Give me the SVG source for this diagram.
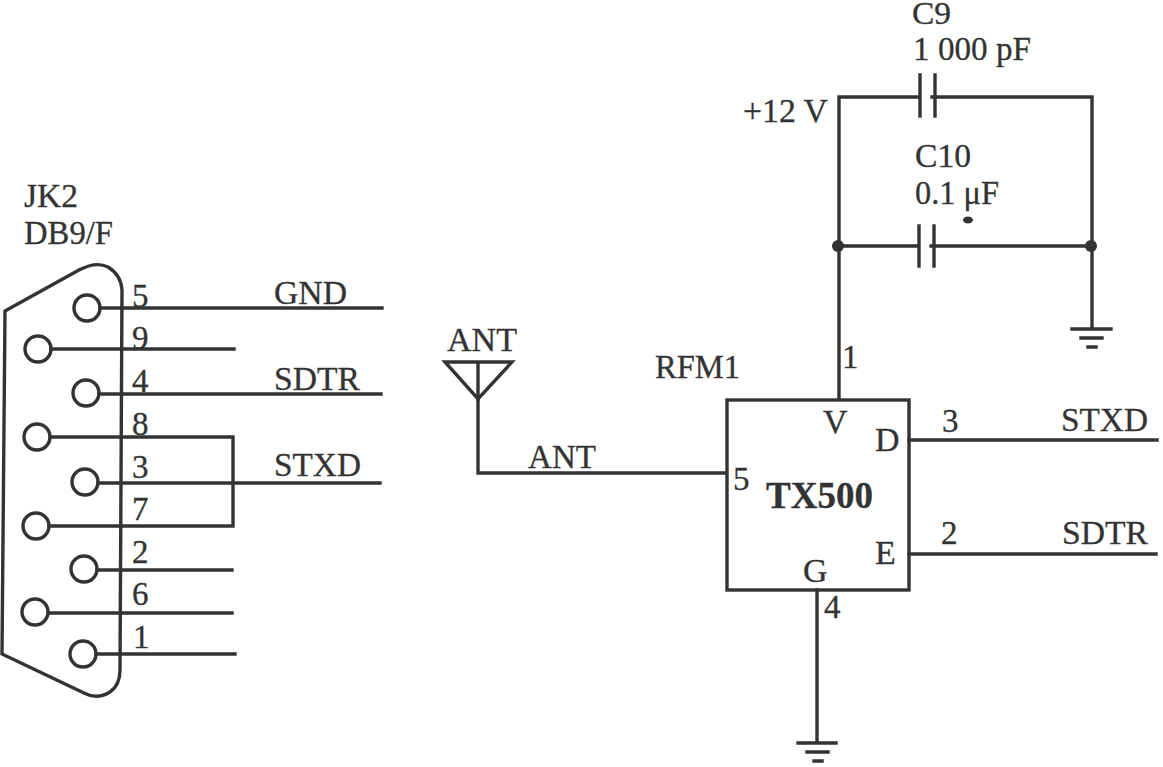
<svg xmlns="http://www.w3.org/2000/svg" width="1163" height="767" viewBox="0 0 1163 767">
<style>
.w{fill:none;stroke:#333;stroke-width:3.4;stroke-linecap:square;stroke-linejoin:miter}
.t{fill:#333;stroke:#333;stroke-width:.3;font-family:"Liberation Serif","Times New Roman",serif;font-size:34px}
.n{font-size:33px}
.b{font-weight:bold;font-size:38px}
.s{font-size:31px}
.d{fill:#333}
</style>
<rect width="1163" height="767" fill="#fff"/>
<g id="JK2">
<path class="w" d="M5,311 L79,270 Q96,261 108,267 Q121,275 122,290 L120,670 Q120,685 110,692 Q97,700 84,693 L2,654 Z"/>
<g class="w">
<circle cx="87" cy="308" r="13"/><circle cx="38" cy="349" r="13"/><circle cx="86" cy="393" r="13"/><circle cx="37" cy="437" r="13"/><circle cx="85" cy="482" r="13"/><circle cx="36" cy="526" r="13"/><circle cx="84" cy="569" r="13"/><circle cx="35" cy="612" r="13"/><circle cx="83" cy="654" r="13"/>
</g>
<text class="t" x="24" y="207" textLength="54" lengthAdjust="spacingAndGlyphs">JK2</text>
<text class="t" x="24" y="244" textLength="89" lengthAdjust="spacingAndGlyphs">DB9/F</text>
<text class="t n" x="132" y="307">5</text><text class="t n" x="132" y="349">9</text><text class="t n" x="132" y="392">4</text><text class="t n" x="132" y="435">8</text><text class="t n" x="132" y="478">3</text><text class="t n" x="132" y="520">7</text><text class="t n" x="132" y="563">2</text><text class="t n" x="132" y="605">6</text><text class="t n" x="133" y="648">1</text>
<text class="t" x="274" y="304" textLength="73" lengthAdjust="spacingAndGlyphs">GND</text>
<text class="t" x="274" y="390" textLength="86" lengthAdjust="spacingAndGlyphs">SDTR</text>
<text class="t" x="274" y="476" textLength="87" lengthAdjust="spacingAndGlyphs">STXD</text>
</g>
<g id="connectors">
<path class="w" d="M100,308H382M51,349H234M99,394H381M50,437H233V526H49M98,483H380M97,570H232M48,613H232M96,654H235"/>
<path class="w" d="M478,400V473H725"/>
<path class="w" d="M839,398V97H919M932,97H1092V327"/>
<path class="w" d="M838,246H918M931,246H1091"/>
<path class="w" d="M909,440H1157M909,554H1156"/>
<path class="w" d="M817,590V741"/>
</g>
<g id="C9">
<path class="w" d="M920,75V116M935,75V116"/>
<text class="t s" x="912" y="24" textLength="39" lengthAdjust="spacingAndGlyphs">C9</text>
<text class="t" x="913" y="60" textLength="118" lengthAdjust="spacingAndGlyphs">1 000 pF</text>
</g>
<g id="C10">
<path class="w" d="M919,226V266M934,226V266"/>
<ellipse class="d" cx="968" cy="220" rx="5" ry="3.5"/>
<text class="t" x="915" y="167" textLength="56" lengthAdjust="spacingAndGlyphs">C10</text>
<text class="t" x="915" y="204" textLength="84" lengthAdjust="spacingAndGlyphs">0.1 μF</text>
<circle class="d" cx="838" cy="246" r="6"/><circle class="d" cx="1091" cy="246" r="6"/>
</g>
<g id="VCC"><text class="t" x="743" y="122" textLength="85" lengthAdjust="spacingAndGlyphs">+12 V</text></g>
<g id="GND1"><path class="w" d="M1072,329H1111M1081,338H1102M1088,347H1096"/></g>
<g id="GND2"><path class="w" d="M798,743H836M807,752H828M814,761H822"/></g>
<g id="ANT">
<path class="w" d="M445,362H512L478,399ZM478,362V399"/>
<text class="t" x="447" y="351" textLength="70" lengthAdjust="spacingAndGlyphs">ANT</text>
<text class="t" x="528" y="468" textLength="68" lengthAdjust="spacingAndGlyphs">ANT</text>
</g>
<g id="RFM1">
<rect class="w" x="727" y="400" width="182" height="190"/>
<text class="t" x="655" y="378" textLength="85" lengthAdjust="spacingAndGlyphs">RFM1</text>
<text class="t n" x="842" y="368">1</text>
<text class="t" x="823" y="433">V</text>
<text class="t" x="875" y="451">D</text>
<text class="t n" x="733" y="490">5</text>
<text class="t b" x="766" y="508" textLength="107" lengthAdjust="spacingAndGlyphs">TX500</text>
<text class="t" x="875" y="564">E</text>
<text class="t" x="803" y="582">G</text>
<text class="t n" x="824" y="618">4</text>
<text class="t n" x="942" y="432">3</text>
<text class="t n" x="941" y="544">2</text>
<text class="t" x="1061" y="431" textLength="87" lengthAdjust="spacingAndGlyphs">STXD</text>
<text class="t" x="1062" y="544" textLength="86" lengthAdjust="spacingAndGlyphs">SDTR</text>
</g>
</svg>
